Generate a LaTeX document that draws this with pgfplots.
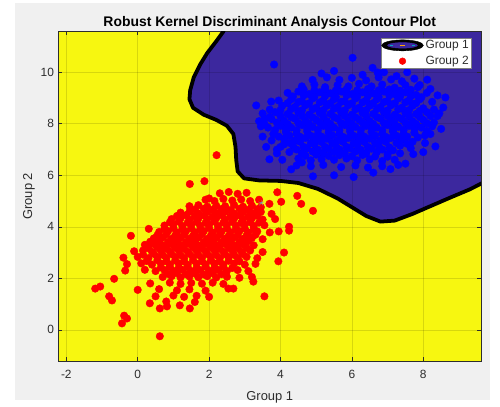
\documentclass[border=0pt]{standalone}
\usepackage{fontspec}
\setmainfont{Liberation Sans}
\usepackage{pgfplots}
\pgfplotsset{compat=1.18}

\definecolor{figgrey}{RGB}{240,240,240}
\definecolor{regionyellow}{RGB}{247,247,16}
\definecolor{regionblue}{RGB}{60,40,158}
\definecolor{labelgrey}{RGB}{45,45,45}

\pgfdeclarelayer{figure background}
\pgfplotsset{
  layers/figlayers/.define layer set={
    figure background,axis background,axis grid,axis ticks,axis lines,
    axis tick labels,pre main,main,axis descriptions,axis foreground}{},
}

\begin{document}
\pgfplotsset{set layers=figlayers}
\begin{tikzpicture}
\begin{axis}[
  at={(56pt,45pt)}, anchor=south west,
  scale only axis, width=425pt, height=331.3pt,
  xmin=-2.22, xmax=9.62, ymin=-1.21, ymax=11.58,
  xtick={-2,0,2,4,6,8}, ytick={0,2,4,6,8,10},
  grid=major,
  grid style={black, opacity=0.13, line width=0.5pt},
  tick align=inside, major tick length=4pt,
  tick style={labelgrey, line width=0.5pt},
  axis line style={labelgrey, line width=0.5pt},
  /pgf/number format/assume math mode=true,
  ticklabel style={font=\fontsize{12}{14}\selectfont, text=labelgrey},
  xticklabel style={yshift=-6pt},
  yticklabel style={xshift=-1pt},
  xlabel={Group 1}, ylabel={Group 2},
  label style={font=\fontsize{13}{15}\selectfont, text=labelgrey},
  xlabel style={yshift=-6pt},
  ylabel style={yshift=-1pt},
  title={Robust Kernel Discriminant Analysis Contour Plot},
  title style={font=\fontsize{14}{16}\selectfont\bfseries, yshift=-7pt},
  legend style={at={(axis description cs:0.977,0.981)}, anchor=north east,
    draw=gray, line width=0.4pt, fill=white, inner sep=0.5pt,
    font=\fontsize{12}{14}\selectfont, text=labelgrey,
    row sep=2pt, nodes={inner sep=2pt}},
  legend cell align=left,
]

% class 2 decision region (whole plotting area)
\addplot[on layer=axis background, fill=regionyellow, draw=none, forget plot] coordinates {
(-2.22,-1.21) (9.62,-1.21) (9.62,11.58) (-2.22,11.58)
};

% class 1 decision region (filled contour level)
\addplot[on layer=axis background, fill=regionblue, draw=none, forget plot] coordinates {
(2.40,11.58) (2.2,11.2) (1.95,10.75) (1.75,10.3) (1.57,9.8) (1.47,9.3)
(1.45,8.95) (1.55,8.62) (1.85,8.35) (2.2,8.15) (2.5,7.92) (2.68,7.6) (2.74,7.1)
(2.76,6.6) (2.8,6.15) (2.98,5.88) (3.4,5.80) (4.0,5.78) (4.5,5.70) (5.05,5.47)
(5.6,5.1) (6.0,4.76) (6.4,4.42) (6.8,4.2) (7.2,4.24) (7.7,4.5) (8.2,4.8)
(8.7,5.1) (9.3,5.45) (9.62,5.68) (9.62,11.58)
};

% contour line separating the two groups
\addplot[black, line width=3.8pt, line join=round, forget plot] coordinates {
(2.45,12) (2.40,11.58) (2.2,11.2) (1.95,10.75) (1.75,10.3) (1.57,9.8) (1.47,9.3)
(1.45,8.95) (1.55,8.62) (1.85,8.35) (2.2,8.15) (2.5,7.92) (2.68,7.6) (2.74,7.1)
(2.76,6.6) (2.8,6.15) (2.98,5.88) (3.4,5.80) (4.0,5.78) (4.5,5.70) (5.05,5.47)
(5.6,5.1) (6.0,4.76) (6.4,4.42) (6.8,4.2) (7.2,4.24) (7.7,4.5) (8.2,4.8)
(8.7,5.1) (9.3,5.45) (9.8,5.8)
};

% legend entry for the contour
\addlegendimage{legend image code/.code={
  \fill[black] (21pt,0pt) ellipse (21pt and 5.5pt);
  \fill[regionblue] (21pt,0pt) ellipse (15pt and 2.8pt);
  \draw[cyan!70!green, line width=1.3pt] (8pt,0pt) -- (11pt,0pt);
  \draw[cyan!70!green, line width=1.3pt] (31pt,0pt) -- (34pt,0pt);
  \draw[orange!70!yellow, line width=1.3pt] (18pt,0pt) -- (24pt,0pt);
}}
\addlegendentry{Group 1}

% group 1 observations
\addplot[only marks, mark=*, mark size=3.8pt, color=blue, forget plot] coordinates {
(3.82,10.30)(6.02,10.56)(3.32,8.71)(3.74,8.86)(8.62,9.02)(8.34,7.12)(7.08,6.24)(6.05,5.93)
(3.69,6.62)(4.30,6.23)(4.91,5.96)(8.11,9.71)(8.56,8.63)(6.58,10.17)(6.72,9.99)(7.72,6.82)
(3.45,7.9)(3.5,7.5)(3.6,7.1)(3.9,7.0)(3.55,8.2)(8.4,8.3)(8.2,7.6)(8.5,7.8)(7.9,9.5)(8.0,6.9)
(7.3,6.4)(6.6,6.1)(5.5,6.0)(4.6,6.5)(4.1,7.2)
(5.15,9.95)(5.5,10.05)(6.3,9.9)(6.9,10.0)(7.25,9.85)(7.55,10.0)
(4.9,9.7)(5.3,9.8)(5.65,9.7)(6.0,9.78)(6.4,9.68)(6.75,9.8)(7.1,9.72)(7.4,9.65)(7.75,9.75)
(4.6,9.45)(4.95,9.52)(5.25,9.42)(5.6,9.5)(5.9,9.45)(6.2,9.55)(6.55,9.45)(6.85,9.52)(7.2,9.4)(7.5,9.5)(7.85,9.42)(8.2,9.35)
(4.2,9.2)(4.5,9.25)(4.8,9.15)(5.1,9.22)(5.4,9.18)(5.7,9.25)(6.0,9.15)(6.3,9.22)(6.6,9.18)(6.9,9.25)(7.2,9.15)(7.5,9.22)(7.8,9.12)(8.1,9.2)(8.4,9.1)
(3.95,8.9)(4.3,8.95)(4.6,8.88)(4.9,8.98)(5.2,8.9)(5.5,8.95)(5.8,8.88)(6.1,8.98)(6.4,8.9)(6.7,8.95)(7.0,8.88)(7.3,8.98)(7.6,8.9)(7.9,8.95)(8.25,8.85)
(3.7,8.55)(4.05,8.7)(4.4,8.65)(4.7,8.72)(5.0,8.62)(5.3,8.7)(5.6,8.65)(5.9,8.72)(6.2,8.62)(6.5,8.7)(6.8,8.65)(7.1,8.72)(7.4,8.62)(7.7,8.7)(8.0,8.6)(8.3,8.55)
(3.5,8.4)(3.85,8.45)(4.2,8.38)(4.5,8.45)(4.8,8.35)(5.1,8.42)(5.4,8.38)(5.7,8.45)(6.0,8.35)(6.3,8.42)(6.6,8.38)(6.9,8.45)(7.2,8.35)(7.5,8.42)(7.8,8.38)(8.1,8.45)(8.45,8.4)
(3.4,8.1)(3.75,8.18)(4.1,8.12)(4.4,8.2)(4.7,8.1)(5.0,8.15)(5.3,8.1)(5.6,8.2)(5.9,8.1)(6.2,8.16)(6.5,8.1)(6.8,8.2)(7.1,8.12)(7.4,8.18)(7.7,8.1)(8.0,8.15)(8.3,8.05)
(3.65,7.85)(4.0,7.92)(4.3,7.85)(4.6,7.95)(4.9,7.88)(5.2,7.92)(5.5,7.85)(5.8,7.95)(6.1,7.88)(6.4,7.92)(6.7,7.85)(7.0,7.95)(7.3,7.88)(7.6,7.92)(7.95,7.85)(8.25,7.9)
(3.8,7.6)(4.15,7.68)(4.45,7.62)(4.75,7.7)(5.05,7.6)(5.35,7.65)(5.65,7.6)(5.95,7.7)(6.25,7.6)(6.55,7.68)(6.85,7.62)(7.15,7.7)(7.45,7.6)(7.75,7.65)(8.05,7.55)
(3.75,7.35)(4.1,7.42)(4.4,7.35)(4.7,7.45)(5.0,7.38)(5.3,7.42)(5.6,7.35)(5.9,7.45)(6.2,7.38)(6.5,7.42)(6.8,7.35)(7.1,7.45)(7.4,7.38)(7.7,7.3)(8.05,7.25)
(4.0,7.1)(4.35,7.15)(4.65,7.1)(4.95,7.2)(5.25,7.1)(5.55,7.15)(5.85,7.1)(6.15,7.18)(6.45,7.1)(6.75,7.15)(7.05,7.08)(7.35,7.15)(7.65,7.05)
(3.9,6.85)(4.25,6.9)(4.6,6.85)(4.9,6.92)(5.2,6.85)(5.5,6.9)(5.8,6.85)(6.1,6.92)(6.4,6.85)(6.7,6.9)(7.0,6.82)(7.35,6.85)
(4.05,6.6)(4.5,6.65)(4.85,6.58)(5.15,6.62)(5.5,6.6)(5.85,6.65)(6.15,6.58)(6.5,6.62)(6.85,6.55)(7.2,6.6)
(4.45,6.38)(4.85,6.35)(5.2,6.4)(5.7,6.32)(6.1,6.38)(6.45,6.3)(6.85,6.35)(7.5,6.45)
(4.65,9.33)(4.95,9.3)(5.25,9.34)(5.55,9.29)(5.85,9.33)(6.15,9.3)(6.45,9.35)(6.75,9.3)(7.05,9.33)(7.35,9.28)(7.65,9.32)
(4.35,9.06)(4.65,9.1)(4.95,9.05)(5.25,9.08)(5.55,9.04)(5.85,9.1)(6.15,9.05)(6.45,9.08)(6.75,9.04)(7.05,9.1)(7.35,9.05)(7.65,9.07)(7.95,9.03)
(4.2,8.8)(4.5,8.84)(4.8,8.79)(5.1,8.83)(5.4,8.8)(5.7,8.85)(6.0,8.79)(6.3,8.83)(6.6,8.8)(6.9,8.84)(7.2,8.79)(7.5,8.83)(7.8,8.8)
(4.0,8.53)(4.3,8.57)(4.6,8.52)(4.9,8.56)(5.2,8.53)(5.5,8.58)(5.8,8.52)(6.1,8.56)(6.4,8.53)(6.7,8.57)(7.0,8.52)(7.3,8.56)(7.6,8.53)(7.9,8.5)
(3.7,8.27)(4.0,8.3)(4.3,8.26)(4.6,8.3)(4.9,8.25)(5.2,8.29)(5.5,8.26)(5.8,8.3)(6.1,8.25)(6.4,8.29)(6.7,8.26)(7.0,8.3)(7.3,8.25)(7.6,8.29)(7.9,8.26)(8.2,8.3)
(3.55,8.0)(3.9,8.04)(4.2,7.99)(4.5,8.03)(4.8,8.0)(5.1,8.05)(5.4,7.99)(5.7,8.03)(6.0,8.0)(6.3,8.04)(6.6,7.99)(6.9,8.03)(7.2,8.0)(7.5,8.04)(7.8,7.99)(8.1,8.02)
(3.85,7.76)(4.15,7.8)(4.45,7.75)(4.75,7.79)(5.05,7.76)(5.35,7.8)(5.65,7.75)(5.95,7.79)(6.25,7.76)(6.55,7.8)(6.85,7.75)(7.15,7.79)(7.45,7.76)(7.75,7.8)(8.1,7.72)
(3.95,7.5)(4.25,7.54)(4.55,7.49)(4.85,7.53)(5.15,7.5)(5.45,7.55)(5.75,7.49)(6.05,7.53)(6.35,7.5)(6.65,7.54)(6.95,7.49)(7.25,7.53)(7.55,7.5)(7.85,7.47)
(4.25,7.26)(4.55,7.3)(4.85,7.25)(5.15,7.29)(5.45,7.26)(5.75,7.3)(6.05,7.25)(6.35,7.29)(6.65,7.26)(6.95,7.3)(7.25,7.25)(7.55,7.22)
(4.45,7.0)(4.75,7.04)(5.05,6.99)(5.35,7.03)(5.65,7.0)(5.95,7.04)(6.25,6.99)(6.55,7.03)(6.85,7.0)(7.15,6.97)
(4.7,6.76)(5.0,6.8)(5.35,6.75)(5.65,6.78)(6.0,6.74)(6.3,6.79)(6.65,6.73)(7.0,6.72)
};

% group 2 observations
\addplot[only marks, mark=*, mark size=3.8pt, color=red,
  legend image code/.code={\fill[red] (21pt,0pt) circle (3.4pt);}] coordinates {
(2.21,6.78)(1.46,5.66)(1.87,5.77)(-0.19,3.65)(0.31,3.92)(0.62,-0.25)(-1.19,1.60)(-1.05,1.68)
(-0.66,1.98)(-0.38,0.55)(-0.30,0.44)(-0.44,0.25)(-0.80,1.30)(-0.72,1.14)(3.55,1.30)(3.24,1.87)
(2.54,1.60)(2.68,1.60)(0.62,0.83)(0.82,0.91)(1.46,0.83)(1.18,0.95)(0.34,1.03)
(3.91,5.34)(4.47,5.20)(4.58,4.89)(4.91,4.62)(3.69,4.89)(4.02,4.97)(4.24,4.0)(4.24,3.85)(4.1,3.0)(3.94,2.66)
(2.3,5.3)(2.55,5.35)(2.8,5.28)(3.05,5.32)(2.0,5.1)
(1.9,5.05)(2.15,5.0)(2.4,5.08)(2.65,5.02)(2.9,5.06)(3.15,5.0)(3.4,5.05)
(1.45,4.8)(1.7,4.84)(1.95,4.78)(2.2,4.82)(2.45,4.8)(2.7,4.85)(2.95,4.78)(3.2,4.82)(3.45,4.76)
(1.2,4.55)(1.45,4.58)(1.7,4.52)(1.95,4.57)(2.2,4.54)(2.45,4.58)(2.7,4.52)(2.95,4.56)(3.2,4.53)(3.45,4.58)(3.75,4.5)
(0.95,4.3)(1.2,4.33)(1.45,4.28)(1.7,4.32)(1.95,4.29)(2.2,4.33)(2.45,4.28)(2.7,4.32)(2.95,4.29)(3.2,4.33)(3.5,4.28)(3.85,4.3)
(0.75,4.05)(1.0,4.08)(1.25,4.03)(1.5,4.07)(1.75,4.04)(2.0,4.08)(2.25,4.03)(2.5,4.07)(2.75,4.04)(3.0,4.08)(3.25,4.03)(3.55,4.06)
(0.6,3.8)(0.85,3.83)(1.1,3.78)(1.35,3.82)(1.6,3.79)(1.85,3.83)(2.1,3.78)(2.35,3.82)(2.6,3.79)(2.85,3.83)(3.1,3.78)(3.35,3.82)(3.7,3.78)(3.95,3.82)
(0.45,3.55)(0.7,3.58)(0.95,3.53)(1.2,3.57)(1.45,3.54)(1.7,3.58)(1.95,3.53)(2.2,3.57)(2.45,3.54)(2.7,3.58)(2.95,3.53)(3.2,3.57)(3.5,3.52)
(0.2,3.3)(0.45,3.33)(0.7,3.28)(0.95,3.32)(1.2,3.29)(1.45,3.33)(1.7,3.28)(1.95,3.32)(2.2,3.29)(2.45,3.33)(2.7,3.28)(2.95,3.32)(3.25,3.28)
(-0.1,3.05)(0.15,3.08)(0.4,3.03)(0.65,3.07)(0.9,3.04)(1.15,3.08)(1.4,3.03)(1.65,3.07)(1.9,3.04)(2.15,3.08)(2.4,3.03)(2.65,3.07)(2.9,3.04)(3.15,3.08)(3.5,3.02)
(-0.4,2.8)(0.0,2.83)(0.3,2.78)(0.55,2.82)(0.8,2.79)(1.05,2.83)(1.3,2.78)(1.55,2.82)(1.8,2.79)(2.05,2.83)(2.3,2.78)(2.55,2.82)(2.8,2.79)(3.05,2.83)(3.35,2.78)
(-0.3,2.55)(0.1,2.58)(0.4,2.53)(0.65,2.57)(0.9,2.54)(1.15,2.58)(1.4,2.53)(1.65,2.57)(1.9,2.54)(2.15,2.58)(2.4,2.53)(2.7,2.57)(3.0,2.53)(3.3,2.56)
(-0.35,2.3)(0.2,2.33)(0.5,2.28)(0.75,2.32)(1.0,2.29)(1.25,2.33)(1.5,2.28)(1.75,2.32)(2.0,2.29)(2.25,2.33)(2.5,2.28)(2.8,2.32)(3.1,2.28)
(0.7,2.05)(0.95,2.08)(1.2,2.03)(1.45,2.07)(1.7,2.04)(1.95,2.08)(2.2,2.03)(2.5,2.06)(2.85,2.02)(3.2,2.05)
(0.35,1.8)(0.9,1.83)(1.2,1.78)(1.5,1.82)(1.8,1.79)(2.1,1.83)(2.4,1.78)
(0.0,1.55)(0.6,1.58)(1.1,1.53)(1.45,1.57)(1.9,1.52)
(0.5,1.3)(1.0,1.33)(1.3,1.28)(1.65,1.32)(2.0,1.28)
(0.8,1.1)(1.6,1.08)
(1.6,4.67)(1.85,4.7)(2.1,4.66)(2.35,4.69)(2.6,4.65)(2.85,4.7)(3.1,4.66)(3.35,4.68)
(1.1,4.42)(1.35,4.45)(1.6,4.41)(1.85,4.44)(2.1,4.4)(2.35,4.45)(2.6,4.41)(2.85,4.44)(3.1,4.4)(3.35,4.43)
(0.9,4.17)(1.15,4.2)(1.4,4.16)(1.65,4.19)(1.9,4.15)(2.15,4.2)(2.4,4.16)(2.65,4.19)(2.9,4.15)(3.15,4.18)(3.4,4.16)
(0.75,3.92)(1.0,3.95)(1.25,3.91)(1.5,3.94)(1.75,3.9)(2.0,3.95)(2.25,3.91)(2.5,3.94)(2.75,3.9)(3.0,3.93)(3.25,3.91)
(0.55,3.67)(0.8,3.7)(1.05,3.66)(1.3,3.69)(1.55,3.65)(1.8,3.7)(2.05,3.66)(2.3,3.69)(2.55,3.65)(2.8,3.68)(3.05,3.66)(3.3,3.69)
(0.35,3.42)(0.6,3.45)(0.85,3.41)(1.1,3.44)(1.35,3.4)(1.6,3.45)(1.85,3.41)(2.1,3.44)(2.35,3.4)(2.6,3.43)(2.85,3.41)(3.1,3.44)
(0.3,3.17)(0.55,3.2)(0.8,3.16)(1.05,3.19)(1.3,3.15)(1.55,3.2)(1.8,3.16)(2.05,3.19)(2.3,3.15)(2.55,3.18)(2.8,3.16)(3.05,3.19)
(0.15,2.92)(0.45,2.95)(0.7,2.91)(0.95,2.94)(1.2,2.9)(1.45,2.95)(1.7,2.91)(1.95,2.94)(2.2,2.9)(2.45,2.93)(2.7,2.91)(2.95,2.94)
(0.25,2.67)(0.55,2.7)(0.8,2.66)(1.05,2.69)(1.3,2.65)(1.55,2.7)(1.8,2.66)(2.05,2.69)(2.3,2.65)(2.55,2.68)(2.85,2.66)
(0.65,2.42)(0.9,2.45)(1.15,2.41)(1.4,2.44)(1.65,2.4)(1.9,2.45)(2.15,2.41)(2.4,2.44)(2.65,2.4)
(0.85,2.17)(1.1,2.2)(1.35,2.16)(1.6,2.19)(1.85,2.15)(2.1,2.2)(2.35,2.16)
};
\addlegendentry{Group 2}

% small marker on the boundary region
\addplot[only marks, mark=star, mark size=3pt, color=cyan!40!gray, forget plot] coordinates {(3.46,4.93)};
\end{axis}
\begin{pgfonlayer}{figure background}
\fill[white] (0pt,0pt) rectangle (500pt,408pt);
\fill[figgrey] (12pt,6pt) rectangle (490pt,405pt);
\end{pgfonlayer}
\end{tikzpicture}
\end{document}
